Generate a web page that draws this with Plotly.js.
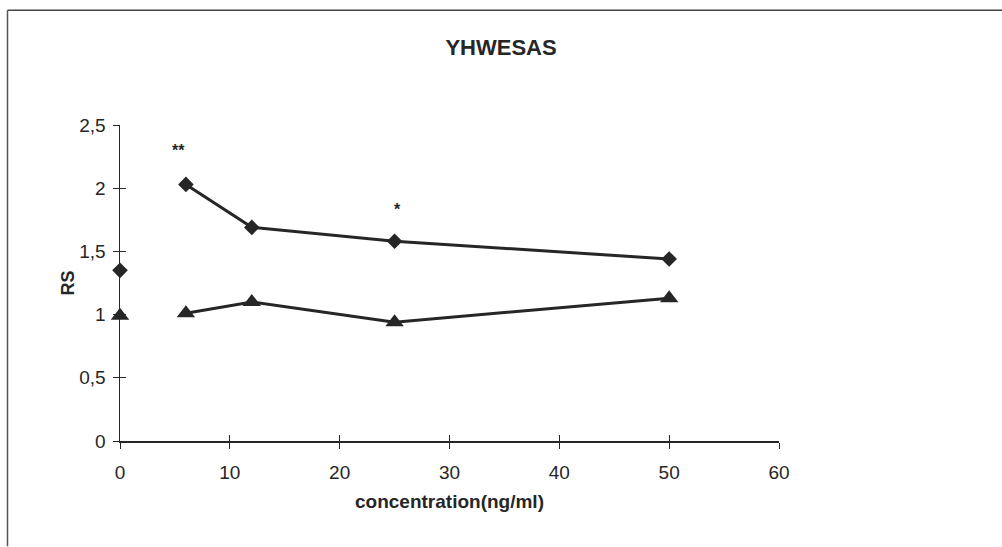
<!DOCTYPE html>
<html>
<head>
<meta charset="utf-8">
<script src="https://cdn.plot.ly/plotly-3.0.1.min.js"></script>
<style>
html,body{margin:0;padding:0;background:#fff;}
#chart{width:1002px;height:547px;}
</style>
</head>
<body>
<div id="chart"></div>
<script>
// Data
const concentration = [0, 6, 12, 25, 50];
const diamondRS = [1.35, 2.03, 1.69, 1.58, 1.44];
const triangleRS = [0.99, 1.01, 1.10, 0.94, 1.13];
const starLabels = ["**", "*"];
const starX = [5.3, 25.3];
const starY = [2.30, 1.83];
const xTicks = [0, 10, 20, 30, 40, 50, 60];
const yTicks = [0, 0.5, 1, 1.5, 2, 2.5];
const yTickText = ["0", "0,5", "1", "1,5", "2", "2,5"];

const ink = '#262626';
const font = 'Liberation Sans, Arial, sans-serif';
const dSize = 12, tSize = 16;

const traces = [
  {x: concentration.slice(0,1), y: diamondRS.slice(0,1), mode: 'markers', type: 'scatter', cliponaxis: false,
   marker: {symbol: 'diamond', size: dSize, color: ink}, showlegend: false},
  {x: concentration.slice(1), y: diamondRS.slice(1), mode: 'lines+markers', type: 'scatter', cliponaxis: false,
   line: {color: ink, width: 3}, marker: {symbol: 'diamond', size: dSize, color: ink}, showlegend: false},
  {x: concentration.slice(0,1), y: triangleRS.slice(0,1), mode: 'markers', type: 'scatter', cliponaxis: false,
   marker: {symbol: 'triangle-up', size: tSize, color: ink}, showlegend: false},
  {x: concentration.slice(1), y: triangleRS.slice(1), mode: 'lines+markers', type: 'scatter', cliponaxis: false,
   line: {color: ink, width: 3}, marker: {symbol: 'triangle-up', size: tSize, color: ink}, showlegend: false}
];

const L = 120, R = 779, T = 125, B = 441.5;
const px2paperX = p => (p - L) / (R - L);
const px2paperY = p => (B - p) / (B - T);

const layout = {
  width: 1002, height: 547,
  margin: {l: L, r: 1002 - R, t: T, b: 547 - B},
  paper_bgcolor: '#fff', plot_bgcolor: '#fff',
  font: {family: font, color: ink, size: 19},
  showlegend: false,
  title: {text: '<b>YHWESAS</b>', font: {family: font, size: 22, color: ink},
          x: 0.5, xref: 'container', y: 1 - 47/547, yref: 'container', yanchor: 'middle'},
  xaxis: {range: [0, 60], tickvals: xTicks, ticktext: xTicks.map(String),
          showgrid: false, zeroline: false, showline: true, linecolor: ink, linewidth: 1.5,
          ticks: 'outside', ticklen: 6, tickcolor: ink, tickwidth: 1, ticklabelstandoff: 8,
          tickfont: {size: 19, family: font, color: ink},
          title: {text: '<b>concentration(ng/ml)</b>', font: {size: 19, family: font, color: ink}, standoff: 12}},
  yaxis: {range: [0, 2.5], tickvals: yTicks, ticktext: yTickText,
          showgrid: false, zeroline: false, showline: true, linecolor: ink, linewidth: 1.5,
          ticks: 'outside', ticklen: 6, tickcolor: ink, tickwidth: 1, ticklabelstandoff: 3,
          tickfont: {size: 19, family: font, color: ink},
          title: {text: '<b>RS</b>', font: {size: 18, family: font, color: ink}, standoff: 0}},
  xaxis2: {range: [0, 60], tickvals: xTicks, overlaying: 'x', anchor: 'y', side: 'bottom',
           showticklabels: false, showgrid: false, zeroline: false, showline: false,
           ticks: 'inside', ticklen: 6, tickcolor: ink, tickwidth: 1},
  yaxis2: {range: [0, 2.5], tickvals: yTicks, overlaying: 'y', anchor: 'x', side: 'left',
           showticklabels: false, showgrid: false, zeroline: false, showline: false,
           ticks: 'inside', ticklen: 6, tickcolor: ink, tickwidth: 1},
  annotations: starLabels.map((t, i) => ({x: starX[i], y: starY[i], xref: 'x', yref: 'y', text: '<b>' + t + '</b>',
          showarrow: false, font: {size: 16, family: font, color: ink}})),
  shapes: [
    {type: 'line', xref: 'paper', yref: 'paper', x0: px2paperX(7.5), x1: px2paperX(7.5), y0: px2paperY(10), y1: px2paperY(547),
     line: {color: '#555', width: 1.5}},
    {type: 'line', xref: 'paper', yref: 'paper', x0: px2paperX(7.5), x1: px2paperX(1002), y0: px2paperY(10), y1: px2paperY(10),
     line: {color: '#444', width: 1.5}}
  ]
};

traces.push({x: [], y: [], xaxis: 'x2', yaxis: 'y2', type: 'scatter', showlegend: false, hoverinfo: 'skip'});

Plotly.newPlot('chart', traces, layout, {displayModeBar: false, staticPlot: true});
</script>
</body>
</html>
